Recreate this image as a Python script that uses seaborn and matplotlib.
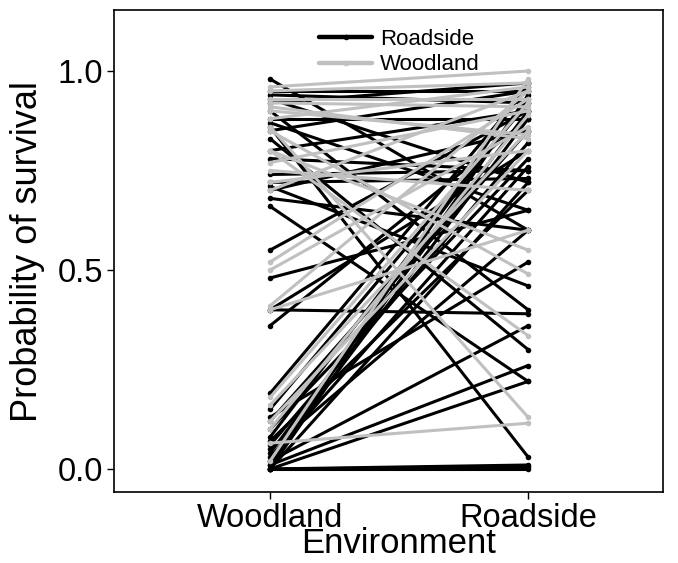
import pandas as pd
import numpy as np
import matplotlib
matplotlib.use('Agg')
import matplotlib.pyplot as plt
import seaborn as sns

environments = ['Woodland', 'Roadside']

# roadside populations (black): survival in woodland, survival at roadside
road_wood = [0.98, 0.95, 0.94, 0.93, 0.92, 0.90, 0.88, 0.87, 0.85, 0.83,
             0.80, 0.78, 0.74, 0.72, 0.71, 0.70, 0.68, 0.66, 0.86, 0.55,
             0.48, 0.40, 0.40, 0.36, 0.19, 0.15, 0.12, 0.10, 0.08, 0.07,
             0.06, 0.05, 0.04, 0.03, 0.02, 0.02, 0.01, 0.00, 0.00, 0.00,
             0.00, 0.01, 0.00, 0.00, 0.13]
road_road = [0.60, 0.95, 0.92, 0.72, 0.97, 0.40, 0.88, 0.65, 0.95, 0.30,
             0.90, 0.75, 0.75, 0.73, 0.46, 0.85, 0.60, 0.22, 0.03, 0.90,
             0.65, 0.39, 0.80, 0.88, 0.96, 0.92, 0.85, 0.78, 0.93, 0.70,
             0.82, 0.60, 0.90, 0.76, 0.88, 0.36, 0.26, 0.22, 0.01, 0.00,
             0.005, 0.97, 0.94, 0.72, 0.52]

# woodland populations (grey)
wood_wood = [0.96, 0.95, 0.93, 0.92, 0.90, 0.88, 0.86, 0.85, 0.80, 0.80,
             0.77, 0.75, 0.72, 0.70, 0.52, 0.50, 0.41, 0.40, 0.18, 0.16,
             0.12, 0.10, 0.065, 0.02, 0.91]
wood_road = [1.00, 0.97, 0.93, 0.91, 0.84, 0.96, 0.13, 0.49, 0.55, 0.335,
             0.90, 0.70, 0.80, 0.95, 0.93, 0.86, 0.95, 0.60, 0.92, 0.85,
             0.80, 0.89, 0.115, 0.98, 0.83]

rows = []
for i, (a, b) in enumerate(zip(road_wood, road_road)):
    rows.append(('Roadside', 'r%d' % i, 'Woodland', a))
    rows.append(('Roadside', 'r%d' % i, 'Roadside', b))
for i, (a, b) in enumerate(zip(wood_wood, wood_road)):
    rows.append(('Woodland', 'w%d' % i, 'Woodland', a))
    rows.append(('Woodland', 'w%d' % i, 'Roadside', b))
df = pd.DataFrame(rows, columns=['origin', 'id', 'env', 'surv'])
df['x'] = df['env'].map({e: k for k, e in enumerate(environments)})

sns.set_style('white')
plt.rcParams['font.family'] = ['Liberation Sans', 'DejaVu Sans']
plt.rcParams['text.color'] = 'black'
plt.rcParams['axes.labelcolor'] = 'black'

fig = plt.figure(figsize=(6.78, 5.63), dpi=100)
ax = fig.add_axes([0.168, 0.126, 0.810, 0.856])

sns.lineplot(data=df, x='x', y='surv', hue='origin', units='id', estimator=None,
             hue_order=['Roadside', 'Woodland'],
             palette={'Roadside': 'black', 'Woodland': '#c0c0c0'},
             marker='o', markersize=4, markeredgewidth=0, linewidth=2.2,
             ax=ax)

ax.set_xlim(-0.605, 1.523)
ax.set_ylim(-0.058, 1.153)
ax.set_xticks([0, 1])
ax.set_xticklabels(environments)
ax.set_yticks([0.0, 0.5, 1.0])
ax.set_yticklabels(['0.0', '0.5', '1.0'])
ax.tick_params(axis='both', labelsize=23.5, length=5, width=1, direction='out',
               color='black', labelcolor='black', bottom=True, left=True, pad=3)
ax.set_xlabel('Environment', fontsize=25)
ax.xaxis.set_label_coords(0.518, -0.127, transform=ax.transAxes)
ax.xaxis.label.set_verticalalignment('baseline')
ax.set_ylabel('Probability of survival', fontsize=26)
ax.yaxis.set_label_coords(-0.125, 0.5, transform=ax.transAxes)
for s in ax.spines.values():
    s.set_color('black')
    s.set_linewidth(1.2)

leg = ax.legend(loc='upper center', bbox_to_anchor=(0.52, 1.0), frameon=False,
                fontsize=16, handlelength=2.4, handletextpad=0.35,
                labelspacing=0.2, title=None, borderaxespad=0.45)
for h in leg.legend_handles:
    h.set_linewidth(3.2)

fig.savefig('out.png', dpi=100)
